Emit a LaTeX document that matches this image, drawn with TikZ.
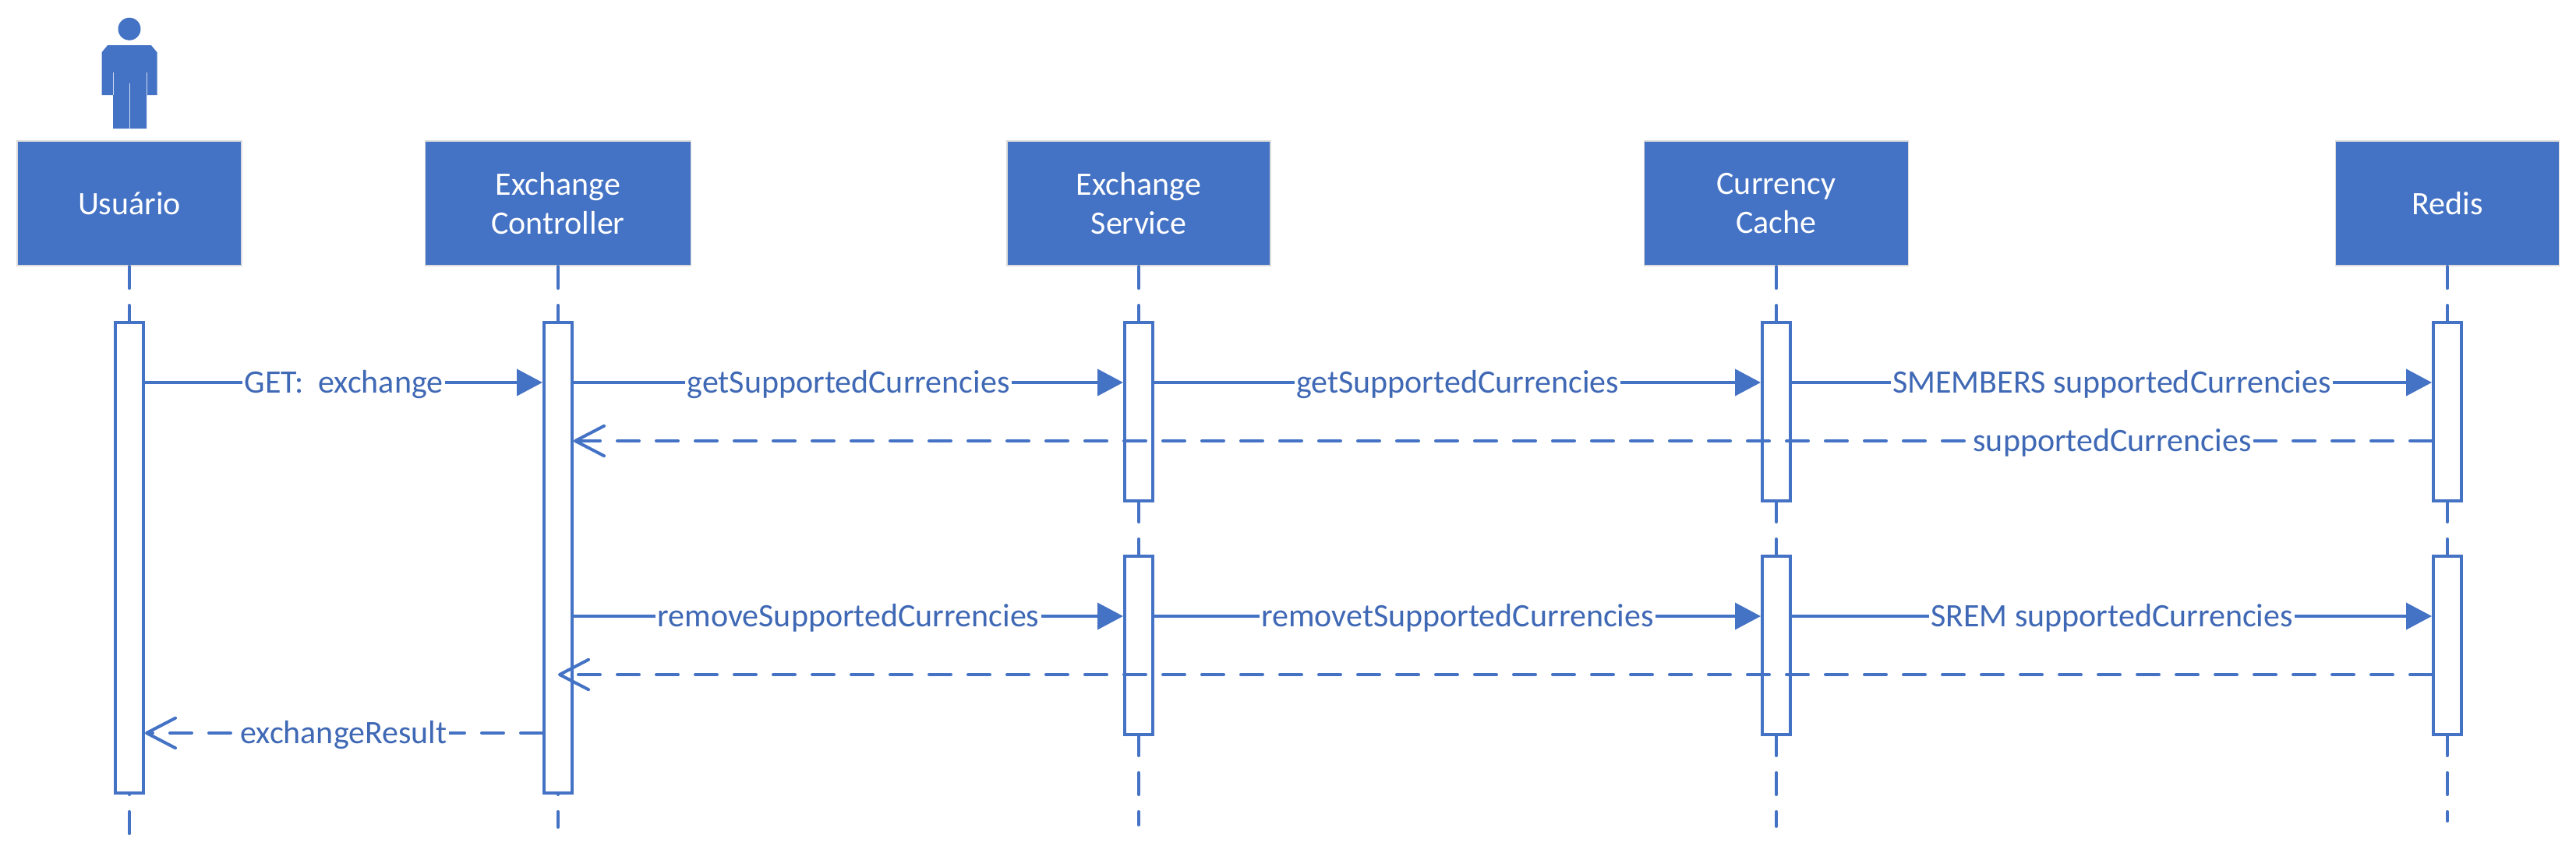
\documentclass[tikz,border=0pt]{standalone}
\usepackage{fontspec}
\setmainfont{Carlito}
\usepackage{xcolor}
\usetikzlibrary{arrows.meta}
\usetikzlibrary{matrix}
\usetikzlibrary{fit}
\definecolor{umlblau}{HTML}{4472C4}
\definecolor{umltext}{HTML}{3F68B5}
\tikzset{
  Objekt/.style={draw=black!14, line width=.4pt, fill=umlblau, text=white, align=center,
    inner sep=0pt, minimum height=40pt, minimum width=#1}, % Kopfboxen
  Balken/.style={draw=umlblau, line width=1pt, fill=white, inner xsep=4.5pt, inner ysep=0pt}, % Aktivierung
  Leben/.style={umlblau, line width=.9pt, line cap=round, dash pattern=on 7.1pt off 5.4pt},
  Ruf/.style={umlblau, line width=1pt, -{Triangle[length=8.25pt,width=8.5pt]}},
  Antwort/.style={umlblau, line width=1pt, line cap=round, dash pattern=on 7pt off 5.5pt,
    -{Straight Barb[length=9.25pt,width=9.6pt,round]}},
  Text/.style={fill=white, text=umltext, inner xsep=.6pt, inner ysep=0pt, text height=7.5pt, text depth=1pt}
}

\begin{document}
\begin{tikzpicture}[font=\fontsize{10.5}{12.5}\selectfont]
\useasboundingbox (0,0) rectangle (826.25pt,-275.75pt);
\matrix (S) [
  matrix of nodes, nodes in empty cells,
  inner sep=0pt, outer sep=0pt,
  column sep=0pt, row sep=17.75pt, % plus 1pt lineskip
  matrix anchor=north west,
  nodes={minimum width=0pt, inner sep=0pt, outer sep=0pt}
  ] at (41.5pt,-64.75pt)
{
  &[137.5pt]&[186.25pt]&[204.5pt]&[215.25pt]\\[20pt]
  &&&&\\
  &&&&\\
  &&&&\\
  &&&&\\
  &&&&\\
  &&&&\\
  &&&&\\
  &&&&\\
  &&&&\\[-8.75pt]
  &&&&\\
};

%Kopfboxen
\node[Objekt=72pt] (User) at (S-1-1) {Usuário};
\node[Objekt=85.25pt] (Controller) at (S-1-2) {Exchange\\Controller};
\node[Objekt=84.5pt] (Service) at (S-1-3) {Exchange\\Service};
\node[Objekt=84.75pt] (Cache) at (S-1-4) {Currency\\Cache};
\node[Objekt=71.75pt] (Redis) at (S-1-5) {Redis};

%Lebenslinien
\coordinate (UserEnd) at ([yshift=-4.25pt]S-11-1);
\coordinate (ControllerEnd) at ([yshift=-1.5pt]S-11-2);
\coordinate (ServiceEnd) at ([yshift=-.75pt]S-11-3);
\coordinate (CacheEnd) at ([yshift=-1.25pt]S-11-4);
\draw[Leben] (User) -- (UserEnd);
\draw[Leben] (Controller) -- (ControllerEnd);
\draw[Leben] (Service) -- (ServiceEnd);
\draw[Leben] (Cache) -- (CacheEnd);
\draw[Leben] (Redis) -- (S-11-5);

%Aktivierungen
\node[Balken, fit=(S-2-1)(S-10-1)] (BU) {};
\node[Balken, fit=(S-2-2)(S-10-2)] (BC) {};
\node[Balken, fit=(S-2-3)(S-5-3)] (BS1) {};
\node[Balken, fit=(S-2-4)(S-5-4)] (BK1) {};
\node[Balken, fit=(S-2-5)(S-5-5)] (BR1) {};
\node[Balken, fit=(S-6-3)(S-9-3)] (BS2) {};
\node[Balken, fit=(S-6-4)(S-9-4)] (BK2) {};
\node[Balken, fit=(S-6-5)(S-9-5)] (BR2) {};

%Nachrichten
\draw[Ruf] (BU.east |- S-3-1) -- node[Text]{GET:\ \ exchange} (BC.west |- S-3-1);
\draw[Ruf] (BC.east |- S-3-1) -- node[Text]{getSupportedCurrencies} (BS1.west |- S-3-1);
\draw[Ruf] (BS1.east |- S-3-1) -- node[Text]{getSupportedCurrencies} (BK1.west |- S-3-1);
\draw[Ruf] (BK1.east |- S-3-1) -- node[Text]{SMEMBERS supportedCurrencies} (BR1.west |- S-3-1);
\draw[Antwort] (BR1.west |- S-4-1) -- node[Text, pos=.172]{supportedCurrencies} (BC.east |- S-4-1);

\draw[Ruf] (BC.east |- S-7-1) -- node[Text]{removeSupportedCurrencies} (BS2.west |- S-7-1);
\draw[Ruf] (BS2.east |- S-7-1) -- node[Text]{removetSupportedCurrencies} (BK2.west |- S-7-1);
\draw[Ruf] (BK2.east |- S-7-1) -- node[Text]{SREM supportedCurrencies} (BR2.west |- S-7-1);
\draw[Antwort] (BR2.west |- S-8-1) -- (BC.center |- S-8-1);
\draw[Antwort] (BC.west |- S-9-1) -- node[Text]{exchangeResult} (BU.east |- S-9-1);

%Figur
\begin{scope}[shift={(User.north)}, x=.25pt, y=.25pt]
  \fill[umlblau] (0,143) circle (14.5);
  \fill[umlblau] (-28,122) -- (28,122) -- (35.5,113) -- (35.5,58) -- (22,58) -- (22,15)
    -- (-21,15) -- (-21,58) -- (-35.5,58) -- (-35.5,113) -- cycle;
  \draw[white!75!umlblau, line width=.25pt] (-21,58) -- (-21,87);
  \draw[white!75!umlblau, line width=.25pt] (22,58) -- (22,87);
  \draw[white!75!umlblau, line width=.25pt] (0,15) -- (0,73);
\end{scope}
\end{tikzpicture}
\end{document}
